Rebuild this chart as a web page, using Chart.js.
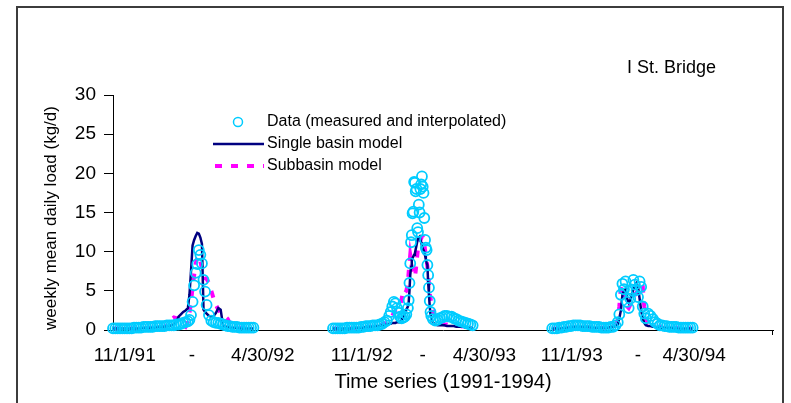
<!DOCTYPE html>
<html>
<head>
<meta charset="utf-8">
<script src="https://cdn.jsdelivr.net/npm/chart.js@4"></script>
<style>
  body { margin: 0; background: #fff; }
  #wrap { position: relative; width: 791px; height: 403px; }
</style>
</head>
<body>
<div id="wrap"><canvas id="myChart" width="791" height="403"></canvas></div>
<script>
// days counted from Nov 1 of each season, weekly mean daily load in kg/d
const days1 = [0,3,6,9,12,15,18,21,24,27,30,33,36,39,42,45,48,51,54,57,60,63,66,69,72,75,78,81,84,87,90,93,96,
    98,100,102,104,106,108,110,112,114,116,118,120,
    123,126,129,132,135,138,141,144,147,150,153,156,159,162,165,168,171,174,177,180];
const obs1 = [0.2,0.2,0.2,0.2,0.2,0.2,0.2,0.2,0.2,0.3,0.3,0.3,0.3,0.4,0.4,0.4,0.4,0.4,0.5,0.5,0.5,0.5,0.5,0.6,0.6,0.6,0.6,0.7,0.7,0.8,0.9,1.0,1.1,
    1.3,1.9,3.6,5.7,7.3,8.4,10.2,9.6,8.5,6.4,4.9,3.2,
    1.9,1.2,1.0,0.9,0.9,0.8,0.7,0.6,0.5,0.5,0.4,0.4,0.4,0.3,0.3,0.3,0.3,0.3,0.3,0.3];
const single1 = [0.2,0.2,0.2,0.2,0.2,0.2,0.2,0.2,0.2,0.2,0.2,0.2,0.2,0.3,0.3,0.3,0.3,0.3,0.3,0.4,0.4,0.4,0.4,0.5,0.5,0.6,0.7,1.0,1.7,2.0,2.3,2.5,2.8,
    4.5,7.5,10.8,11.5,12.0,12.4,12.3,11.8,11.0,2.6,2.3,2.1,
    1.8,1.7,1.8,2.2,2.8,2.6,0.6,0.4,0.4,0.3,0.3,0.3,0.3,0.2,0.2,0.2,0.2,0.2,0.2,0.2];
const sub1 = [0.2,0.2,0.2,0.2,0.2,0.2,0.2,0.2,0.2,0.2,0.2,0.2,0.2,0.2,0.2,0.2,0.3,0.3,0.3,0.3,0.3,0.3,0.4,0.6,1.0,1.4,1.6,1.5,1.4,1.0,0.6,0.4,1.0,
    2.2,3.5,5.5,7.0,8.5,9.2,9.5,8.8,7.8,7.0,6.6,6.5,
    6.0,5.0,4.0,3.2,2.6,2.2,2.0,1.7,1.4,0.8,0.5,0.4,0.4,0.3,0.3,0.3,0.2,0.2,0.2,0.2];

const days2 = [0,3,6,9,12,15,18,21,24,27,30,33,36,39,42,45,48,51,54,57,60,63,66,
    69,72,74,76,78,80,82,84,86,88,90,92,94,
    96,97,98,99,100,101,102,103,104,105,106,107,108,109,110,111,112,113,114,115,116,117,118,119,120,121,122,123,124,125,126,
    128,131,134,137,140,143,146,149,152,155,158,161,164,167,170,173,176,179];
const obs2 = [0.2,0.2,0.2,0.2,0.2,0.2,0.3,0.3,0.3,0.3,0.3,0.3,0.4,0.4,0.5,0.5,0.5,0.6,0.6,0.6,0.7,0.8,1.0,
    1.2,1.8,2.3,3.0,3.6,3.4,2.8,2.2,1.7,1.5,1.6,1.7,2.0,
    2.8,3.8,6.0,8.5,11.2,12.1,14.9,15.1,18.9,18.8,17.7,18.0,13.0,12.5,16.0,15.0,18.0,18.6,19.6,18.3,17.5,14.3,11.5,10.5,10.2,8.3,7.0,5.4,3.7,2.3,1.8,
    1.4,1.2,1.3,1.5,1.6,1.8,1.8,1.7,1.7,1.5,1.4,1.2,1.1,1.0,0.9,0.8,0.7,0.6];
const single2 = [0.2,0.2,0.2,0.2,0.2,0.2,0.2,0.2,0.2,0.3,0.3,0.3,0.3,0.3,0.4,0.4,0.4,0.4,0.5,0.5,0.5,0.6,0.6,
    0.7,0.8,0.8,0.9,0.9,0.9,1.0,1.0,1.0,1.3,1.7,2.1,2.6,
    3.0,3.5,5.0,7.0,8.0,9.0,9.2,9.4,9.6,9.8,10.3,10.8,11.3,11.7,11.8,11.9,11.5,11.2,10.8,10.4,10.2,10.0,9.5,9.0,8.6,8.3,6.0,4.5,3.0,2.0,1.5,
    1.0,0.7,0.6,0.6,0.6,0.6,0.5,0.5,0.5,0.5,0.4,0.4,0.4,0.4,0.3,0.3,0.3,0.3];
const sub2 = [0.2,0.2,0.2,0.2,0.2,0.2,0.2,0.2,0.2,0.2,0.2,0.3,0.3,0.3,0.3,0.4,0.4,0.4,0.5,0.5,0.6,0.7,0.8,
    0.9,1.2,1.5,1.8,2.2,2.5,2.7,2.8,3.0,4.0,5.0,4.7,5.0,
    6.0,7.4,8.5,9.6,9.0,8.0,7.7,7.5,7.0,6.8,7.5,8.5,9.5,10.5,10.8,11.1,11.4,11.7,11.9,11.9,11.5,11.0,10.2,9.5,8.8,8.1,7.0,6.0,4.7,4.0,3.5,
    2.6,1.8,1.2,0.9,0.8,0.7,0.7,0.6,0.6,0.5,0.5,0.5,0.5,0.4,0.4,0.4,0.3,0.3];

const days3 = [0,3,6,9,12,15,18,21,24,27,30,33,36,39,42,45,48,51,54,57,60,63,66,69,72,75,78,81,84,
    86,88,90,92,94,96,98,100,102,104,106,108,110,112,114,116,118,120,
    123,126,129,132,135,138,141,144,147,150,153,156,159,162,165,168,171,174,177,180];
const obs3 = [0.2,0.2,0.2,0.3,0.3,0.4,0.4,0.5,0.5,0.6,0.6,0.6,0.6,0.5,0.5,0.5,0.5,0.4,0.4,0.4,0.4,0.3,0.3,0.3,0.3,0.4,0.4,0.6,1.0,
    2.0,4.5,5.9,5.2,6.2,3.6,2.8,4.0,5.0,6.4,5.8,5.1,4.2,6.2,5.5,3.0,2.1,1.5,
    2.1,1.8,1.4,1.0,0.8,0.6,0.6,0.5,0.5,0.4,0.4,0.4,0.4,0.3,0.3,0.3,0.3,0.3,0.3,0.3];
const single3 = [0.2,0.2,0.2,0.2,0.2,0.3,0.3,0.3,0.3,0.4,0.4,0.4,0.4,0.4,0.4,0.4,0.4,0.3,0.3,0.3,0.3,0.3,0.3,0.3,0.3,0.4,0.4,0.5,0.7,
    1.5,2.5,4.5,5.0,5.2,4.0,3.5,3.8,4.5,5.2,5.8,6.0,5.5,4.0,2.5,1.5,0.9,0.6,
    0.5,0.5,0.4,0.4,0.3,0.3,0.3,0.3,0.3,0.3,0.3,0.2,0.2,0.2,0.2,0.2,0.2,0.2,0.2,0.2];
const sub3 = [0.2,0.2,0.2,0.2,0.2,0.2,0.2,0.3,0.3,0.3,0.3,0.3,0.3,0.3,0.3,0.3,0.3,0.3,0.3,0.3,0.3,0.3,0.3,0.3,0.3,0.4,0.4,0.6,1.2,
    3.0,5.5,5.8,4.5,3.5,3.0,2.8,3.2,3.5,4.0,4.5,4.8,5.0,5.0,5.8,5.6,3.0,1.6,
    0.8,0.6,0.5,0.4,0.4,0.4,0.3,0.3,0.3,0.3,0.3,0.3,0.3,0.3,0.3,0.3,0.2,0.2,0.2,0.2];

// where each season begins on the running x axis
const seasonStart = [0, 282, 563];
const seriesNames = ['Data (measured and interpolated)', 'Single basin model', 'Subbasin model'];
const tickLabels = ['11/1/91', '-', '4/30/92', '11/1/92', '-', '4/30/93', '11/1/93', '-', '4/30/94'];
const tickAt = [15, 101, 192, 319, 397, 476, 588, 673, 745];
const stationName = 'I St. Bridge';

const FONT = 'Arial, "Liberation Sans", sans-serif';
Chart.defaults.font.family = FONT;
Chart.defaults.color = '#000';

const seasons = [
    { days: days1, obs: obs1, single: single1, sub: sub1 },
    { days: days2, obs: obs2, single: single2, sub: sub2 },
    { days: days3, obs: obs3, single: single3, sub: sub3 }
];

// join the three seasons, with a null point so lines break between them
const buildSeries = (key) => {
    const pts = [];
    seasons.forEach((s, i) => {
        if (i > 0) pts.push({ x: seasonStart[i] - 1, y: null });
        s.days.forEach((d, j) => pts.push({ x: seasonStart[i] + d, y: s[key][j] }));
    });
    return pts;
};

const extras = {
    id: 'extras',
    afterDraw(chart) {
        const ctx = chart.ctx;
        const area = chart.chartArea;
        ctx.save();
        // outer frame of the chart
        ctx.strokeStyle = '#3c3c3c';
        ctx.lineWidth = 2;
        ctx.strokeRect(17, 7, 766, 420);
        // small tick closing the x axis
        ctx.strokeStyle = '#000';
        ctx.lineWidth = 1;
        ctx.beginPath();
        ctx.moveTo(area.right - 0.5, area.bottom);
        ctx.lineTo(area.right - 0.5, area.bottom + 5);
        ctx.stroke();
        // station name
        ctx.fillStyle = '#000';
        ctx.textBaseline = 'middle';
        ctx.font = '18px ' + FONT;
        ctx.fillText(stationName, 627, 68);
        // legend
        ctx.font = '16px ' + FONT;
        chart.data.datasets.forEach((ds, i) => {
            const y = 122 + i * 22;
            if (ds.showLine === false) {
                ctx.strokeStyle = ds.pointBorderColor;
                ctx.lineWidth = 1.5;
                ctx.beginPath();
                ctx.arc(238, y, 4.5, 0, Math.PI * 2);
                ctx.stroke();
            } else {
                ctx.strokeStyle = ds.borderColor;
                ctx.lineWidth = ds.borderWidth;
                ctx.setLineDash(ds.borderDash || []);
                ctx.lineDashOffset = -2;
                ctx.beginPath();
                ctx.moveTo(213, y);
                ctx.lineTo(264, y);
                ctx.stroke();
                ctx.setLineDash([]);
            }
            ctx.fillStyle = '#000';
            ctx.fillText(ds.label, 267, y);
        });
        ctx.restore();
    }
};

const config = {
    type: 'line',
    data: {
        datasets: [
            {
                label: seriesNames[0],
                data: buildSeries('obs'),
                showLine: false,
                pointStyle: 'circle',
                pointRadius: 5,
                pointBorderWidth: 1.8,
                pointBorderColor: '#00CCFF',
                pointBackgroundColor: 'rgba(0,0,0,0)',
                borderColor: '#00CCFF',
                clip: false
            },
            {
                label: seriesNames[1],
                data: buildSeries('single'),
                borderColor: '#000080',
                borderWidth: 2.5,
                pointRadius: 0,
                tension: 0,
                spanGaps: false,
                clip: false
            },
            {
                label: seriesNames[2],
                data: buildSeries('sub'),
                borderColor: '#FF00FF',
                borderWidth: 4,
                borderDash: [7, 9],
                pointRadius: 0,
                tension: 0,
                spanGaps: false,
                clip: false
            }
        ]
    },
    options: {
        responsive: false,
        animation: false,
        layout: { padding: { left: 41, top: 95, right: 18, bottom: 0 } },
        plugins: {
            legend: { display: false },
            tooltip: { enabled: false }
        },
        scales: {
            x: {
                type: 'linear',
                min: 0,
                max: 846,
                afterFit: (scale) => { scale.height = 73; },
                afterBuildTicks: (scale) => { scale.ticks = tickAt.map(v => ({ value: v })); },
                grid: { display: false },
                border: { display: true, color: '#000', width: 1 },
                ticks: {
                    autoSkip: false,
                    maxRotation: 0,
                    padding: 6,
                    font: { size: 19 },
                    callback: (v, i) => tickLabels[i]
                },
                title: {
                    display: true,
                    text: 'Time series (1991-1994)',
                    font: { size: 20 },
                    padding: { top: 0, bottom: 9 }
                }
            },
            y: {
                min: 0,
                max: 30,
                afterFit: (scale) => { scale.width = 72; },
                grid: { display: true, drawOnChartArea: false, drawTicks: true, tickLength: 9, color: '#000' },
                border: { display: true, color: '#000', width: 1 },
                ticks: { stepSize: 5, padding: 8, font: { size: 19 } },
                title: {
                    display: true,
                    text: 'weekly mean daily load (kg/d)',
                    align: 'start',
                    font: { size: 17 },
                    padding: { top: 0, bottom: 0 }
                }
            }
        }
    },
    plugins: [extras]
};

const myChart = new Chart(document.getElementById('myChart'), config);
</script>
</body>
</html>
